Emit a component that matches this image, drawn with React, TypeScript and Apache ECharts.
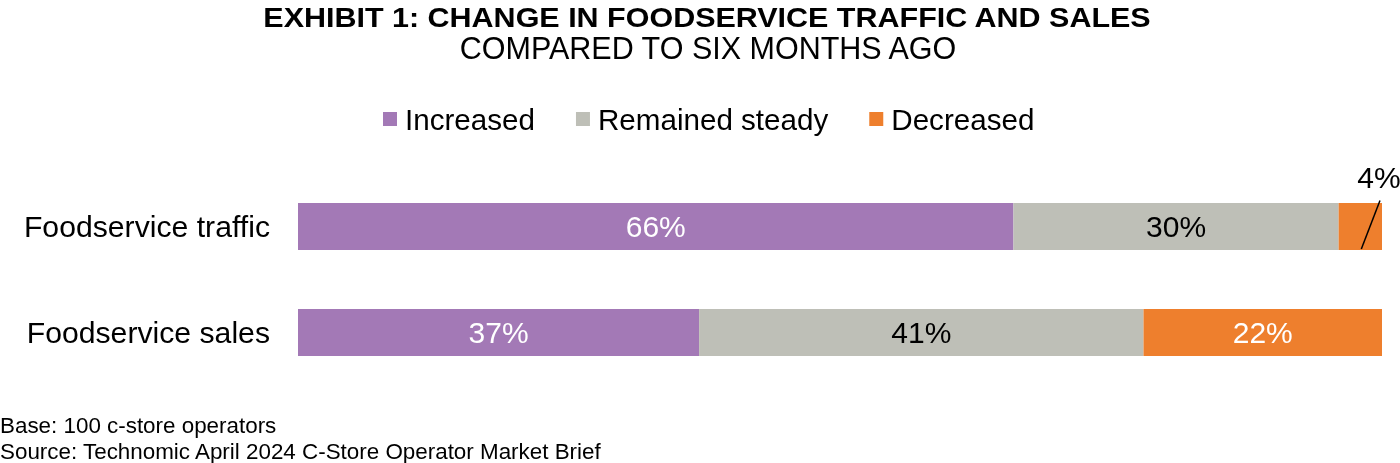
import React, { useEffect, useRef } from "react";
import * as echarts from "echarts";

const categories = ["Foodservice traffic", "Foodservice sales"];
const increased = [66, 37];
const steady = [30, 41];
const decreased = [4, 22];
const seriesNames = ["Increased", "Remained steady", "Decreased"];
const colors = ["#A379B6", "#BEBFB7", "#EE7F2D"];

const FONT = "'Liberation Sans', Arial, sans-serif";

export default function App() {
  const ref = useRef<HTMLDivElement>(null);
  useEffect(() => {
    const chart = echarts.init(ref.current!, null, { renderer: "svg" });
    const labelFor = (color: string, hideSmall: boolean) => ({
      show: true,
      position: "inside",
      color,
      fontSize: 30,
      fontFamily: FONT,
      formatter: (p: any) => (hideSmall && p.value < 10 ? "" : p.value + "%"),
    });
    chart.setOption({
      animation: false,
      textStyle: { fontFamily: FONT },
      graphic: [
        {
          type: "text",
          x: 707,
          y: 17,
          scaleX: 1.07,
          style: {
            text: "EXHIBIT 1: CHANGE IN FOODSERVICE TRAFFIC AND SALES",
            fontSize: 28.5,
            fontWeight: "bold",
            fontFamily: FONT,
            fill: "#000",
            textAlign: "center",
            textVerticalAlign: "middle",
          },
        },
        {
          type: "text",
          x: 708,
          y: 48,
          style: {
            text: "COMPARED TO SIX MONTHS AGO",
            fontSize: 30.5,
            fontFamily: FONT,
            fill: "#000",
            textAlign: "center",
            textVerticalAlign: "middle",
          },
        },
        {
          type: "text",
          x: 0,
          y: 425,
          style: {
            text: "Base: 100 c-store operators",
            fontSize: 22.4,
            fontFamily: FONT,
            fill: "#000",
            textVerticalAlign: "middle",
          },
        },
        {
          type: "text",
          x: 0,
          y: 451,
          style: {
            text: "Source: Technomic April 2024 C-Store Operator Market Brief",
            fontSize: 22.4,
            fontFamily: FONT,
            fill: "#000",
            textVerticalAlign: "middle",
          },
        },
      ],
      legend: {
        data: seriesNames,
        left: 378,
        top: 99,
        itemWidth: 14,
        itemHeight: 14,
        itemGap: 41,
        icon: "rect",
        textStyle: {
          fontSize: 29.6,
          lineHeight: 30,
          color: "#000",
          fontFamily: FONT,
          padding: [0, 0, 0, 3],
        },
      },
      grid: { left: 298, right: 18, top: 173.5, bottom: 77.5, containLabel: false },
      xAxis: {
        type: "value",
        min: 0,
        max: 100,
        show: false,
      },
      yAxis: {
        type: "category",
        data: categories,
        inverse: true,
        axisLine: { show: false },
        axisTick: { show: false },
        axisLabel: { fontSize: 30.2, color: "#000", margin: 28, fontFamily: FONT },
      },
      series: [
        {
          name: seriesNames[0],
          type: "bar",
          stack: "all",
          barWidth: 47,
          data: increased,
          itemStyle: { color: colors[0] },
          label: labelFor("#fff", false),
        },
        {
          name: seriesNames[1],
          type: "bar",
          stack: "all",
          barWidth: 47,
          data: steady,
          itemStyle: { color: colors[1] },
          label: labelFor("#000", false),
        },
        {
          name: seriesNames[2],
          type: "bar",
          stack: "all",
          barWidth: 47,
          data: decreased,
          itemStyle: { color: colors[2] },
          label: labelFor("#fff", true),
        },
      ],
    });

    // callout for the small "Decreased" traffic value
    const startVal = increased[0] + steady[0];
    const endVal = startVal + decreased[0];
    const mid = chart.convertToPixel({ gridIndex: 0 }, [(startVal + endVal) / 2, categories[0]]) as number[];
    const right = chart.convertToPixel({ gridIndex: 0 }, [endVal, categories[0]]) as number[];
    const x0 = mid[0] + 1;
    const y0 = mid[1] + 22.5;
    const x1 = right[0] - 2;
    const y1 = mid[1] - 26;
    chart.setOption({
      graphic: [
        {},
        {},
        {},
        {},
        {
          type: "line",
          shape: { x1: x0, y1: y0, x2: x1, y2: y1 },
          style: { stroke: "#000", lineWidth: 1.5 },
          z: 100,
        },
        {
          type: "text",
          x: x1 - 1,
          y: y1 - 23,
          style: {
            text: decreased[0] + "%",
            fontSize: 30,
            fontFamily: FONT,
            fill: "#000",
            textAlign: "center",
            textVerticalAlign: "middle",
          },
          z: 100,
        },
      ],
    });

    return () => chart.dispose();
  }, []);
  return (
    <div
      ref={ref}
      style={{ position: "fixed", left: 0, top: 0, width: 1400, height: 463 }}
    />
  );
}
